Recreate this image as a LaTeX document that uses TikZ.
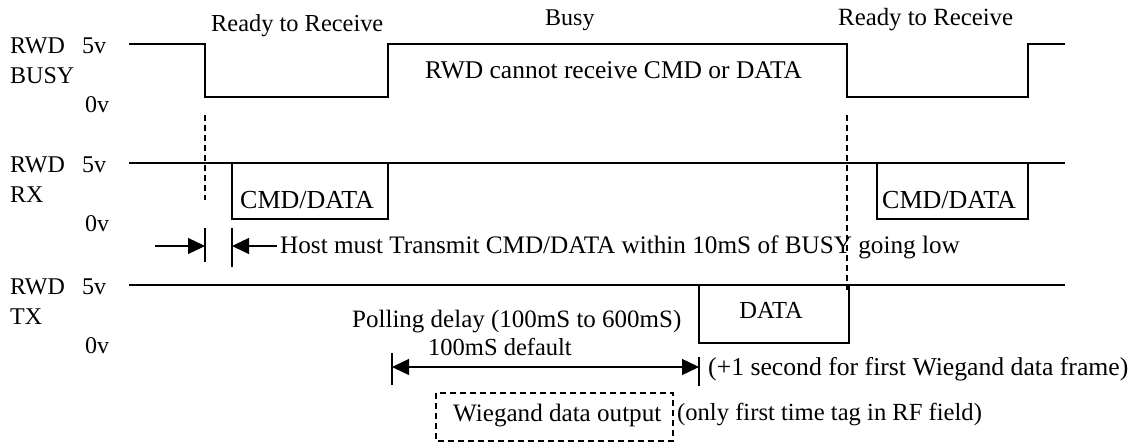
\documentclass[tikz,border=0pt]{standalone}
\usepackage{fontspec}
\setmainfont{Liberation Serif}
\usetikzlibrary{arrows.meta}
\newcommand{\fs}[1]{\fontsize{#1}{#1}\selectfont}
\tikzset{
  lbl/.style={inner sep=0pt, anchor=base west, font=\fs{24}},
  lblc/.style={inner sep=0pt, anchor=base, font=\fs{24}},
  wavethick/.style={line width=2pt, line join=miter},
  wavethin/.style={line width=1.3pt, line join=miter},
  guide/.style={line width=1.3pt, dash pattern=on 6pt off 4pt},
  tipend/.style={-{Triangle[length=17pt,width=16pt]}},
  tipboth/.style={{Triangle[length=17pt,width=16pt]}-{Triangle[length=17pt,width=16pt]}},
  tickline/.style={line width=1.3pt},
  dashbox/.style={line width=1.3pt, dash pattern=on 6pt off 4pt},
}
\begin{document}
\begin{tikzpicture}[x=1pt,y=-1pt]
\useasboundingbox[fill=white] (0,0) rectangle (1130,442);

% ---- labels on the left
\node[lbl] (r1a) at (10,53) {RWD};
\node[lbl] (r1b) at (82,53) {5v};
\node[lbl] (r1c) at (10,83) {BUSY};
\node[lbl] (r1d) at (85,112) {0v};
\node[lbl] (r2a) at (10,172) {RWD};
\node[lbl] (r2b) at (82,172) {5v};
\node[lbl] (r2c) at (10,202) {RX};
\node[lbl] (r2d) at (85,231) {0v};
\node[lbl] (r3a) at (10,294) {RWD};
\node[lbl] (r3b) at (82,294) {5v};
\node[lbl] (r3c) at (10,324) {TX};
\node[lbl] (r3d) at (85,353) {0v};

% ---- top labels
\node[lbl, font=\fs{24.4}] (rtr1) at (211,31.5) {Ready to Receive};
\node[lbl] (busy) at (545,25) {Busy};
\node[lbl, font=\fs{24.8}] (rtr2) at (838,25) {Ready to Receive};
\node[lbl, font=\fs{25.5}] (cannot) at (425,78) {RWD cannot receive CMD or DATA};

% ---- BUSY waveform
\coordinate (b0) at (129,44);
\coordinate (b1) at (205,44);
\coordinate (b2) at (205,97);
\coordinate (b3) at (388,97);
\coordinate (b4) at (388,44);
\coordinate (b5) at (847,44);
\coordinate (b6) at (847,97);
\coordinate (b7) at (1028,97);
\coordinate (b8) at (1028,44);
\coordinate (b9) at (1065,44);
\draw[wavethick] (b0) -- (b1) -- (b2) -- (b3) -- (b4) -- (b5) -- (b6) -- (b7) -- (b8) -- (b9);

% ---- RX waveform
\coordinate (x0) at (129,163);
\coordinate (x9) at (1065,163);
\draw[wavethin] (x0) -- (x9);
\coordinate (c1a) at (232,163);
\coordinate (c1b) at (388,219);
\draw[wavethin] (c1a) |- (c1b) -- (388,163);
\node[lbl, font=\fs{26}] (cmd1) at (240,208) {CMD/DATA};
\coordinate (c2a) at (877,163);
\coordinate (c2b) at (1028,219);
\draw[wavethin] (c2a) |- (c2b) -- (1028,163);
\node[lbl, font=\fs{26}] (cmd2) at (882,208) {CMD/DATA};

% ---- TX waveform
\coordinate (t0) at (129,285);
\coordinate (t9) at (1065,285);
\draw[wavethick] (t0) -- (t9);
\coordinate (d1) at (699,285);
\coordinate (d2) at (849,343);
\draw[wavethin] (d1) |- (d2) -- (849,285);
\node[lblc, font=\fs{24.5}] (data) at (771,318) {DATA};

% ---- guide dashed lines
\coordinate (g1a) at (205,115);
\coordinate (g1b) at (205,200);
\draw[guide] (g1a) -- (g1b);
\coordinate (g2a) at (847,115);
\coordinate (g2b) at (847,290);
\draw[guide] (g2a) -- (g2b);

% ---- 10 ms window
\coordinate (k1t) at (205,228);
\coordinate (k1b) at (205,262);
\coordinate (k2t) at (232,228);
\coordinate (k2b) at (232,267);
\draw[tickline] (k1t) -- (k1b);
\draw[tickline] (k2t) -- (k2b);
\coordinate (a1s) at (155,246);
\coordinate (a1e) at (205,246);
\coordinate (a2s) at (277,246);
\coordinate (a2e) at (232,246);
\draw[tickline, tipend] (a1s) -- (a1e);
\draw[tickline, tipend] (a2s) -- (a2e);
\node[lbl, font=\fs{25.2}] (host) at (280,253) {Host must Transmit CMD/DATA within 10mS of BUSY going low};

% ---- polling delay
\node[lbl, font=\fs{25}] (poll) at (352,327) {Polling delay (100mS to 600mS)};
\node[lbl, font=\fs{24.5}] (def) at (428,355) {100mS default};
\coordinate (p1t) at (392,353);
\coordinate (p1b) at (392,385);
\coordinate (p2t) at (699,357);
\coordinate (p2b) at (699,386);
\draw[tickline] (p1t) -- (p1b);
\draw[tickline] (p2t) -- (p2b);
\coordinate (pa) at (392,367);
\coordinate (pb) at (699,367);
\draw[tickline, tipboth] (pa) -- (pb);
\node[lbl, font=\fs{25.7}] (first) at (708,375) {(+1 second for first Wiegand data frame)};

% ---- Wiegand box
\node[lbl, font=\fs{25.1}] (wieg) at (453,421) {Wiegand data output};
\coordinate (w1) at (436,393);
\coordinate (w2) at (673,441);
\draw[dashbox] (w1) rectangle (w2);
\node[lbl, font=\fs{24.6}] (only) at (677,420) {(only first time tag in RF field)};
\end{tikzpicture}
\end{document}
